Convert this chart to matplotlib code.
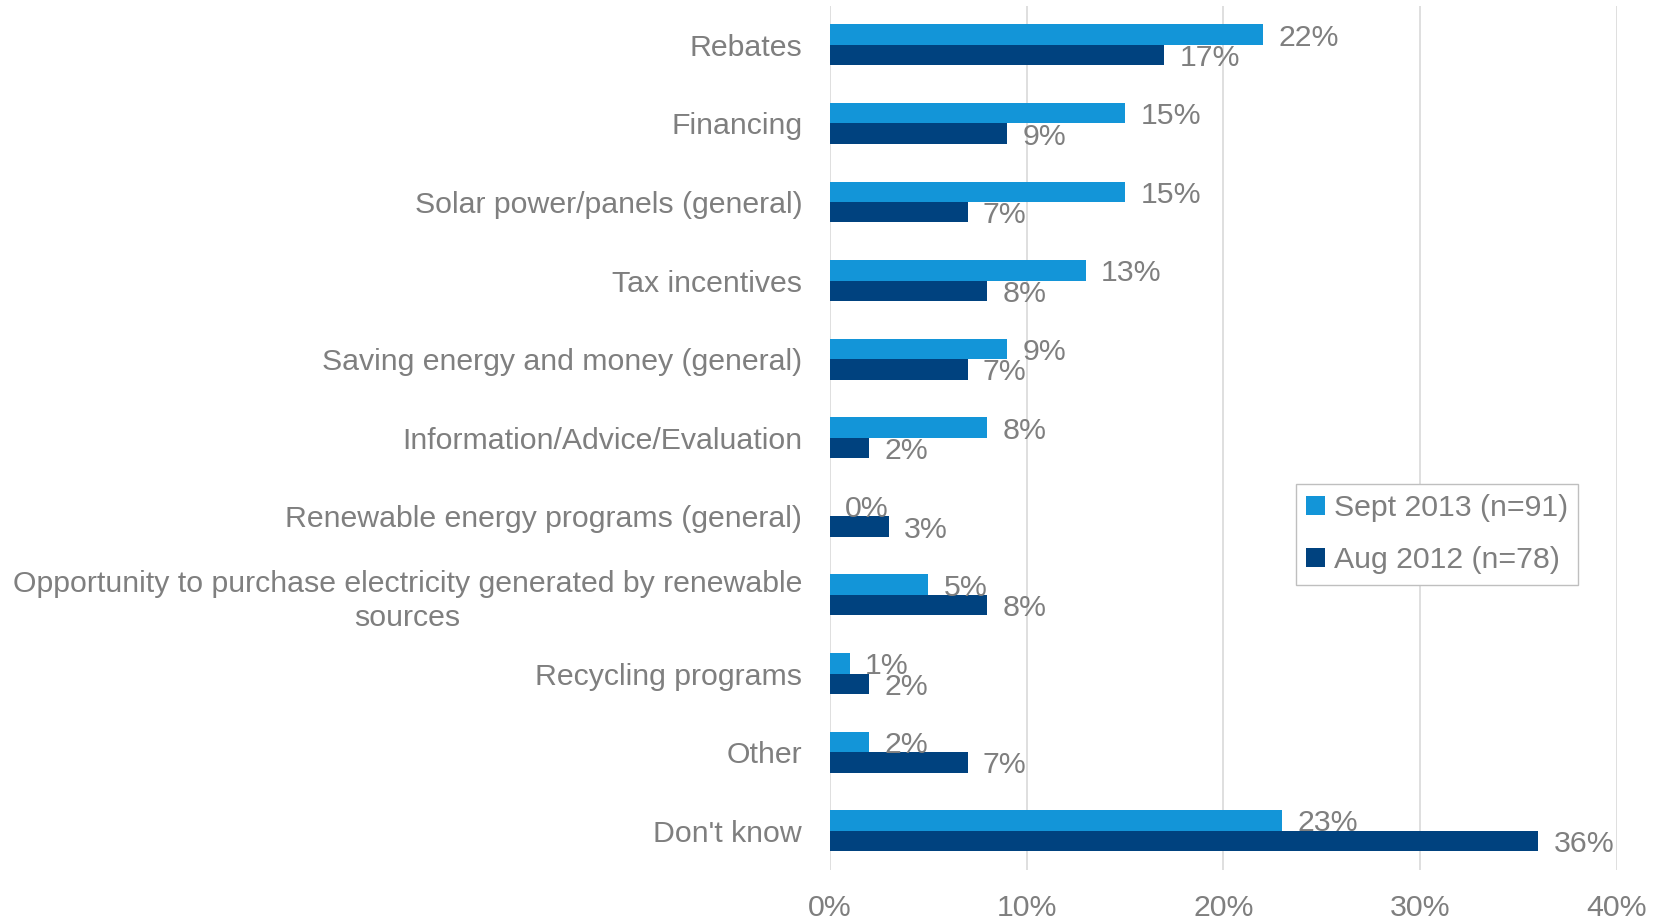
import matplotlib
matplotlib.use("Agg")
import matplotlib.pyplot as plt
import numpy as np

categories = [
    "Rebates",
    "Financing",
    "Solar power/panels (general)",
    "Tax incentives",
    "Saving energy and money (general)",
    "Information/Advice/Evaluation",
    "Renewable energy programs (general)",
    "Opportunity to purchase electricity generated by renewable\nsources",
    "Recycling programs",
    "Other",
    "Don't know",
]
sept_2013 = [22, 15, 15, 13, 9, 8, 0, 5, 1, 2, 23]
aug_2012 = [17, 9, 7, 8, 7, 2, 3, 8, 2, 7, 36]
series_names = ["Sept 2013 (n=91)", "Aug 2012 (n=78)"]
x_ticks = [0, 10, 20, 30, 40]

LIGHT = "#1395D8"
DARK = "#00427F"
TEXT = "#7F7F7F"
GRID = "#D9D9D9"

plt.rcParams["font.family"] = ["Liberation Sans", "DejaVu Sans"]
FS = 21.8

fig = plt.figure(figsize=(16.6, 9.21), dpi=100)
ax = fig.add_axes([0.5, 0.0554, 0.474, 0.9386])

y = np.arange(len(categories))
h = 0.26
b1 = ax.barh(y - h / 2, sept_2013, height=h, color=LIGHT, label=series_names[0], zorder=3)
b2 = ax.barh(y + h / 2, aug_2012, height=h, color=DARK, label=series_names[1], zorder=3)

for bars, vals in ((b1, sept_2013), (b2, aug_2012)):
    for bar, v in zip(bars, vals):
        ax.annotate(f"{v}%", xy=(v, bar.get_y() + bar.get_height() / 2),
                    xytext=(11, 0), textcoords="offset points",
                    va="center_baseline", ha="left", fontsize=FS, color=TEXT, zorder=4)

ax.set_ylim(len(categories) - 0.5, -0.5)
ax.set_xlim(0, 40)
ax.set_xticks(x_ticks)
ax.set_xticklabels([f"{t}%" for t in x_ticks])
ax.set_yticks(y)
ax.set_yticklabels(categories, multialignment="center", linespacing=1.27)
ax.tick_params(axis="both", length=0, labelsize=FS, colors=TEXT)
ax.tick_params(axis="x", pad=17)
ax.tick_params(axis="y", pad=20)
ax.xaxis.grid(True, color=GRID, linewidth=1.2, zorder=0)
ax.yaxis.grid(False)
for s in ax.spines.values():
    s.set_visible(False)

leg = ax.legend(loc="upper left", bbox_to_anchor=(0.592, 0.447), fontsize=FS,
                frameon=True, fancybox=False, edgecolor="#BFBFBF",
                handlelength=0.6, handleheight=0.6, handletextpad=0.3,
                labelspacing=0.8, borderpad=0.35, borderaxespad=0,
                framealpha=1)
for t in leg.get_texts():
    t.set_color(TEXT)

fig.savefig("out.png", dpi=100, facecolor="white")
